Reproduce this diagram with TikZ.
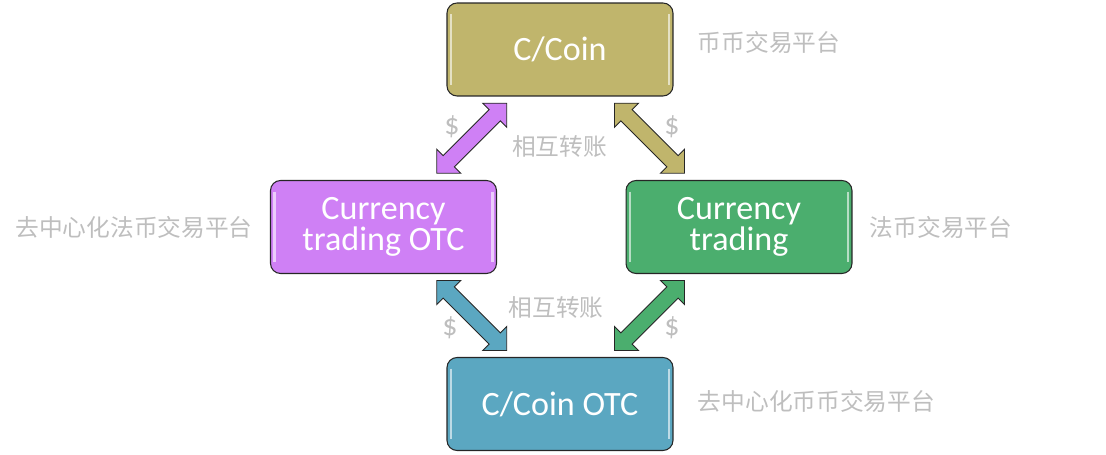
\documentclass[tikz,border=0pt]{standalone}
\usepackage{fontspec}
\setmainfont{Carlito}
\newfontfamily\cjk{Noto Sans CJK SC}
\usepackage{tikz}
\usetikzlibrary{shapes.arrows, positioning, calc}
\definecolor{coincolor}{RGB}{192,181,108}
\definecolor{otccolor}{RGB}{207,128,245}
\definecolor{fiatcolor}{RGB}{75,174,110}
\definecolor{coinotccolor}{RGB}{91,167,193}
\definecolor{notegray}{RGB}{190,190,190}

\begin{document}
\begin{tikzpicture}[
    x=0.02cm, y=-0.02cm,
    box/.style={rectangle, draw=black!85, line width=0.6pt, rounded corners=0.2cm, minimum width=4.52cm, minimum height=1.86cm, align=center, text=white, font=\fontsize{19.4}{17.6}\selectfont,
        path picture={
            \draw[white, opacity=0.6, line width=1.2pt] ([xshift=0.08cm,yshift=-0.22cm]path picture bounding box.north west) -- ([xshift=0.08cm,yshift=0.22cm]path picture bounding box.south west);
            \draw[white, opacity=0.6, line width=1.2pt] ([xshift=-0.08cm,yshift=-0.22cm]path picture bounding box.north east) -- ([xshift=-0.08cm,yshift=0.22cm]path picture bounding box.south east);
        }},
    swap/.style={double arrow, draw=black!85, line width=0.5pt, inner xsep=0pt, inner ysep=0.15cm, minimum height=1.98cm, double arrow head extend=0.18cm},
    note/.style={inner sep=0pt, text=notegray, font=\cjk\fontsize{13.5}{16}\selectfont},
    dollar/.style={inner sep=0pt, text=notegray, font=\fontsize{17}{18}\selectfont}
]
\useasboundingbox (0,0) rectangle (1106,455);

% platforms
\node[box, fill=coincolor] (cc) at (560,49.5) {C/Coin};
\node[box, fill=otccolor] (cto) at (383.5,227) {Currency\\trading OTC};
\node[box, fill=fiatcolor] (ct) at (739,227) {Currency\\trading};
\node[box, fill=coinotccolor] (cco) at (560,404) {C/Coin OTC};

% descriptions
\node[note, right=0.48cm of cc, anchor=west, yshift=0.15cm] (ccnote) {币币交易平台};
\node[note, left=0.34cm of cto] (ctonote) {去中心化法币交易平台};
\node[note, right=0.34cm of ct] (ctnote) {法币交易平台};
\node[note, right=0.48cm of cco, yshift=0.06cm] (cconote) {去中心化币币交易平台};

% transfers
\node[swap, fill=otccolor, rotate=45] (a1) at ($(cc.south west)!0.5!(cto.north east)$) {};
\node[swap, fill=coincolor, rotate=-45] (a2) at ($(cc.south east)!0.5!(ct.north west)$) {};
\node[swap, fill=coinotccolor, rotate=-45] (a3) at ($(cto.south east)!0.5!(cco.north west)$) {};
\node[swap, fill=fiatcolor, rotate=45] (a4) at ($(ct.south west)!0.5!(cco.north east)$) {};

\node[note] (t1) at (559.5,147) {相互转账};
\node[note] (t2) at (556,308) {相互转账};
\node[dollar] (d1) at (452,127) {\$};
\node[dollar] (d2) at (672,127) {\$};
\node[dollar] (d3) at (450,328) {\$};
\node[dollar] (d4) at (672,328) {\$};
\end{tikzpicture}
\end{document}
